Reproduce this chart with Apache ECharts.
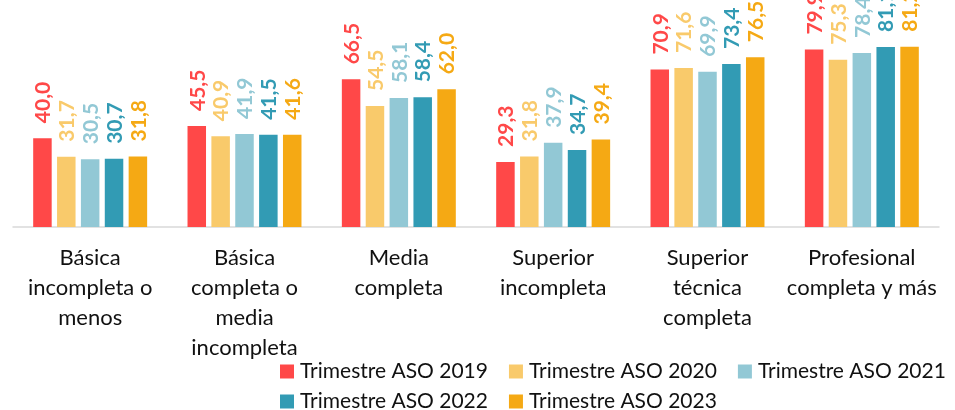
<!DOCTYPE html>
<html>
<head>
<meta charset="utf-8">
<script src="https://cdn.jsdelivr.net/npm/echarts@6/dist/echarts.min.js"></script>
<style>
html,body{margin:0;padding:0;background:#fff;}
#chart{width:955px;height:410px;}
</style>
</head>
<body>
<div id="chart"></div>
<script>
const categories = [
  "Básica incompleta o menos",
  "Básica completa o media incompleta",
  "Media completa",
  "Superior incompleta",
  "Superior técnica completa",
  "Profesional completa y más"
];
const categoryLabels = [
  "Básica\nincompleta o\nmenos",
  "Básica\ncompleta o\nmedia\nincompleta",
  "Media\ncompleta",
  "Superior\nincompleta",
  "Superior\ntécnica\ncompleta",
  "Profesional\ncompleta y más"
];
const seriesNames = ["Trimestre ASO 2019","Trimestre ASO 2020","Trimestre ASO 2021","Trimestre ASO 2022","Trimestre ASO 2023"];
const aso2019 = [40.0, 45.5, 66.5, 29.3, 70.9, 79.9];
const aso2020 = [31.7, 40.9, 54.5, 31.8, 71.6, 75.3];
const aso2021 = [30.5, 41.9, 58.1, 37.9, 69.9, 78.4];
const aso2022 = [30.7, 41.5, 58.4, 34.7, 73.4, 81.1];
const aso2023 = [31.8, 41.6, 62.0, 39.4, 76.5, 81.2];
const seriesValues = [aso2019, aso2020, aso2021, aso2022, aso2023];
const colors = ["#FF4848", "#F9CA6B", "#92C8D5", "#329BB4", "#F5A914"];

const FONT = "Lato, 'Liberation Sans', sans-serif";

const chart = echarts.init(document.getElementById('chart'), null, {renderer: 'canvas'});
const series = seriesNames.map((name, i) => ({
  name: name,
  type: 'bar',
  data: seriesValues[i],
  barWidth: 18.5,
  barGap: '29%',
  itemStyle: {color: colors[i]},
  label: {
    show: true,
    position: 'top',
    rotate: 90,
    align: 'left',
    verticalAlign: 'middle',
    distance: 15,
    offset: [0, 1],
    color: colors[i],
    fontFamily: FONT,
    fontWeight: 'bold',
    fontSize: 21,
    formatter: p => p.value.toFixed(1).replace('.', ',')
  }
}));

chart.setOption({
  animation: false,
  color: colors,
  grid: {left: 13, right: 16, top: 5, bottom: 183, containLabel: false},
  xAxis: {
    type: 'category',
    data: categories,
    axisLine: {show: true, lineStyle: {color: '#D9D9D9', width: 1.5}},
    axisTick: {show: false},
    axisLabel: {
      interval: 0,
      margin: 16,
      color: '#111',
      fontFamily: FONT,
      fontSize: 22,
      lineHeight: 30,
      formatter: (v, idx) => categoryLabels[idx]
    }
  },
  yAxis: {
    type: 'value',
    min: 0, max: 100,
    show: false,
    splitLine: {show: false}
  },
  legend: [
    {
      data: seriesNames.slice(0, 3),
      left: 275, top: 356,
      itemWidth: 14, itemHeight: 14, itemGap: 21,
      icon: 'rect',
      textStyle: {fontFamily: FONT, fontSize: 21, color: '#111', width: 192, padding: [0,0,0,1]}
    },
    {
      data: seriesNames.slice(3),
      left: 275, top: 386,
      itemWidth: 14, itemHeight: 14, itemGap: 21,
      icon: 'rect',
      textStyle: {fontFamily: FONT, fontSize: 21, color: '#111', width: 192, padding: [0,0,0,1]}
    }
  ],
  series: series
});
</script>
</body>
</html>
